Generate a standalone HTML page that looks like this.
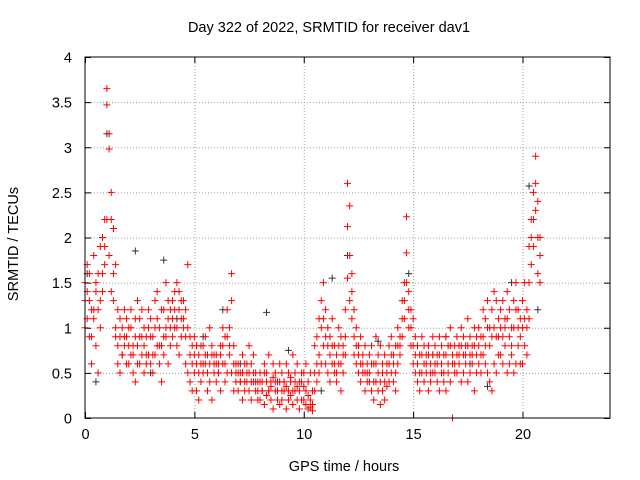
<!DOCTYPE html>
<html><head><meta charset="utf-8"><style>
html,body{margin:0;padding:0;background:#fff}
svg{display:block}
text{font-family:"Liberation Sans",sans-serif;font-size:14.5px;fill:#000}
</style></head><body>
<svg id="chart" width="640" height="480">
<text x="329" y="32" text-anchor="middle">Day 322 of 2022, SRMTID for receiver dav1</text>
<text x="344" y="471" text-anchor="middle">GPS time / hours</text>
<text transform="translate(18,244) rotate(-90)" text-anchor="middle">SRMTID / TECUs</text>
<g id="grid"></g><g id="ticks"></g><g id="pts"></g>
<rect x="85" y="57" width="525" height="361" fill="none" stroke="#000" stroke-width="1"/>
</svg>
<script>
const xTicks=[0,5,10,15,20];
const yTicks=[0,0.5,1,1.5,2,2.5,3,3.5,4];
const yTickLabels=["0","0.5","1","1.5","2","2.5","3","3.5","4"];
const times=[0.0,0.1,0.2,0.3,0.4,0.5,0.6,0.7,0.8,0.9,1.0,1.1,1.2,1.3,1.4,1.5,1.6,1.7,1.8,1.9,2.0,2.1,2.2,2.3,2.4,2.5,2.6,2.7,2.8,2.9,3.0,3.1,3.2,3.3,3.4,3.5,3.6,3.7,3.8,3.9,4.0,4.1,4.2,4.3,4.4,4.5,4.6,4.7,4.8,4.9,5.0,5.1,5.2,5.3,5.4,5.5,5.6,5.7,5.8,5.9,6.0,6.1,6.2,6.3,6.4,6.5,6.6,6.7,6.8,6.9,7.0,7.1,7.2,7.3,7.4,7.5,7.6,7.7,7.8,7.9,8.0,8.1,8.2,8.3,8.4,8.5,8.6,8.7,8.8,8.9,9.0,9.1,9.2,9.3,9.4,9.5,9.6,9.7,9.8,9.9,10.0,10.1,10.2,10.3,10.4,10.5,10.6,10.7,10.8,10.9,11.0,11.1,11.2,11.3,11.4,11.5,11.6,11.7,11.8,11.9,12.0,12.1,12.2,12.3,12.4,12.5,12.6,12.7,12.8,12.9,13.0,13.1,13.2,13.3,13.4,13.5,13.6,13.7,13.8,13.9,14.0,14.1,14.2,14.3,14.4,14.5,14.6,14.7,14.8,14.9,15.0,15.1,15.2,15.3,15.4,15.5,15.6,15.7,15.8,15.9,16.0,16.1,16.2,16.3,16.4,16.5,16.6,16.7,16.8,16.9,17.0,17.1,17.2,17.3,17.4,17.5,17.6,17.7,17.8,17.9,18.0,18.1,18.2,18.3,18.4,18.5,18.6,18.7,18.8,18.9,19.0,19.1,19.2,19.3,19.4,19.5,19.6,19.7,19.8,19.9,20.0,20.1,20.2,20.3,20.4,20.5,20.6,20.7,20.8];
const red1=[1.5,1.7,1.3,1.2,1.8,1.4,1.6,1.9,2.0,2.2,
3.65,3.15,2.5,2.1,1.7,1.2,0.9,1.0,0.8,1.1,
1.0,1.2,0.8,0.9,1.3,1.1,0.7,1.0,0.9,1.2,
1.1,0.9,1.3,1.4,1.0,0.8,1.2,1.5,1.1,1.0,
1.3,1.2,1.5,1.4,1.1,1.3,1.2,1.7,0.9,0.8,
0.9,0.8,0.7,0.6,0.8,0.9,0.7,1.0,0.8,0.7,
0.7,0.6,0.8,1.0,0.9,1.2,1.0,1.6,0.8,0.6,
0.6,0.5,0.7,0.6,0.5,0.8,0.6,0.7,0.5,0.4,
0.5,0.4,0.6,0.5,0.7,0.4,0.6,0.5,0.4,0.6,
0.5,0.4,0.6,0.5,0.4,0.7,0.5,0.6,0.4,0.5,
0.5,0.6,0.4,0.5,0.3,0.8,0.9,1.1,1.3,1.5,
1.2,1.0,0.9,1.1,0.8,0.7,1.0,0.9,0.8,1.2,
2.6,2.35,1.6,1.2,1.0,0.8,0.9,0.7,0.8,0.6,
0.7,0.8,0.6,0.9,0.7,0.8,0.6,0.7,0.5,0.8,
0.9,0.7,0.8,1.0,0.9,1.3,1.5,2.23,1.4,1.2,
1.1,0.9,0.8,0.7,0.9,0.8,0.7,0.8,0.6,0.9,
0.8,0.7,0.9,0.8,0.7,0.9,0.8,1.0,0.0,0.8,
0.9,0.8,1.0,0.9,0.8,1.1,0.9,0.8,1.0,0.9,
1.0,0.9,1.2,1.1,1.3,1.0,1.2,1.4,1.3,1.1,
1.2,1.3,1.1,1.4,1.2,1.0,1.3,1.5,1.2,1.1,
1.3,1.5,1.2,1.9,2.2,2.5,2.9,2.4,2.0];
const red2=[1.3,1.1,0.9,0.6,1.2,0.8,0.5,1.0,1.4,1.7,
3.47,2.98,2.2,1.6,1.0,0.6,0.5,0.7,0.9,0.6,
0.6,0.7,0.5,0.4,0.8,0.6,0.9,0.5,0.6,0.7,
0.6,0.5,0.7,0.8,0.6,0.4,0.7,0.9,0.6,0.8,
0.9,1.0,0.8,0.7,0.9,1.0,0.6,0.5,0.4,0.3,
0.5,0.3,0.2,0.4,0.5,0.6,0.3,0.4,0.2,0.5,
0.4,0.5,0.3,0.6,0.4,0.5,0.7,0.5,0.3,0.4,
0.3,0.4,0.2,0.3,0.4,0.3,0.2,0.4,0.3,0.2,
0.2,0.3,0.15,0.25,0.3,0.2,0.1,0.3,0.2,0.15,
0.2,0.3,0.1,0.2,0.25,0.15,0.3,0.2,0.1,0.2,
0.2,0.15,0.1,0.12,0.08,0.3,0.4,0.5,0.6,0.8,
0.6,0.5,0.4,0.6,0.5,0.4,0.6,0.3,0.5,0.7,
2.12,1.8,1.1,0.7,0.6,0.5,0.4,0.5,0.3,0.4,
0.4,0.3,0.2,0.4,0.3,0.15,0.3,0.2,0.35,0.4,
0.5,0.4,0.3,0.6,0.7,0.9,1.1,1.83,1.0,0.8,
0.6,0.5,0.4,0.3,0.5,0.4,0.5,0.3,0.4,0.5,
0.5,0.4,0.3,0.5,0.4,0.3,0.5,0.4,0.6,0.5,
0.5,0.6,0.4,0.5,0.6,0.4,0.5,0.6,0.3,0.5,
0.6,0.5,0.7,0.6,0.5,0.4,0.3,0.6,0.5,0.7,
0.7,0.6,0.8,0.5,0.6,0.7,0.5,0.6,0.8,0.6,
0.6,0.8,0.7,1.1,1.7,1.9,2.3,1.6,1.5];
const red3=[1.0,1.4,1.6,0.9,1.1,1.5,1.2,1.3,1.6,1.9,
2.2,1.8,1.4,1.3,0.9,0.8,1.1,0.7,1.2,0.9,
0.8,1.0,0.7,1.1,0.6,0.9,1.2,0.8,0.7,1.0,
0.9,0.7,1.0,1.1,0.8,1.2,0.9,1.0,1.3,1.2,
1.1,1.4,1.0,1.2,1.3,1.1,0.9,1.0,0.7,0.6,
0.7,0.6,0.5,0.8,0.6,0.7,0.5,0.6,0.7,0.6,
0.6,0.5,0.7,0.8,0.6,0.9,0.8,1.3,0.6,0.5,
0.5,0.4,0.5,0.4,0.6,0.5,0.4,0.5,0.4,0.3,
0.4,0.3,0.5,0.4,0.3,0.35,0.45,0.4,0.3,0.4,
0.3,0.4,0.35,0.3,0.45,0.3,0.4,0.35,0.3,0.4,
0.35,0.3,0.25,0.2,0.15,0.5,0.6,0.7,1.0,1.1,
0.9,0.8,0.7,0.8,0.6,0.5,0.8,0.6,0.7,0.9,
1.55,1.3,1.4,0.9,0.8,0.7,0.6,0.6,0.5,0.5,
0.5,0.6,0.4,0.6,0.5,0.4,0.5,0.4,0.6,0.6,
0.7,0.6,0.5,0.8,0.8,1.1,1.3,1.5,1.2,1.0,
0.8,0.7,0.6,0.5,0.7,0.6,0.6,0.7,0.5,0.7,
0.6,0.6,0.7,0.6,0.5,0.7,0.6,0.8,0.7,0.6,
0.7,0.7,0.8,0.7,0.7,0.8,0.7,0.7,0.8,0.7,
0.8,0.7,0.9,0.8,1.0,0.8,0.9,1.0,0.9,0.9,
1.0,0.9,1.0,1.1,0.9,0.8,1.0,1.2,1.0,0.9,
1.0,1.1,1.0,1.5,2.0,2.2,2.6,2.0,1.8];
const greyT=[0.1,0.5,1.0,2.3,3.6,4.2,5.4,6.3,8.3,9.3,11.3,12.0,13.4,14.8,15.9,17.6,18.4,19.5,20.3,20.7,3.0,7.1,10.8,16.5];
const greyY=[1.6,0.4,3.15,1.85,1.75,1.1,0.9,1.2,1.17,0.75,1.55,1.8,0.85,1.6,0.7,0.6,0.35,1.5,2.57,1.2,0.5,0.6,0.3,0.9];

const X0=85,X1=610,Y0=418,Y1=57;
function xs(v){return X0+(v/24)*(X1-X0);}
function ys(v){return Y0-(v/4)*(Y0-Y1);}
const NS="http://www.w3.org/2000/svg";
const grid=document.getElementById('grid'),ticks=document.getElementById('ticks'),pts=document.getElementById('pts');
function mk(tag,attrs,parent){const e=document.createElementNS(NS,tag);for(const k in attrs)e.setAttribute(k,attrs[k]);parent.appendChild(e);return e;}
xTicks.forEach(function(v){
  const x=xs(v)+0.5;
  if(v>0){const g=mk('line',{x1:x,x2:x,y1:Y1,y2:Y0,stroke:'#a0a0a0','stroke-dasharray':'1,2'},grid);
  
  }
  const t=mk('path',{d:'M'+x+' '+Y0+'v-6M'+x+' '+Y1+'v6',stroke:'#000'},ticks);
  
  
  const l=mk('text',{x:x,y:Y0+21,'text-anchor':'middle'},ticks);l.textContent=String(v);
  
  
});
yTicks.forEach(function(v,i){
  const y=ys(v)+0.5;
  if(v>0&&v<4){const g=mk('line',{x1:X0,x2:X1,y1:y,y2:y,stroke:'#a0a0a0','stroke-dasharray':'1,2'},grid);
  
  }
  const t=mk('path',{d:'M'+X0+' '+y+'h6M'+X1+' '+y+'h-6',stroke:'#000'},ticks);
  
  
  const l=mk('text',{x:X0-13,y:y+5,'text-anchor':'end'},ticks);l.textContent=yTickLabels[i];
  
  
});
function plus(t,v,color,name){
  const x=xs(t),y=ys(v);
  const p=mk('path',{d:'M'+(x-3.5)+' '+y+'h7M'+x+' '+(y-3.5)+'v7',stroke:color,'stroke-width':1},pts);
  
  
}
greyT.forEach(function(t,i){plus(t,greyY[i],'#333','grey-point');});
times.forEach(function(t,i){plus(t,red3[i],'#ff0000','red-point');});
times.forEach(function(t,i){plus(t,red2[i],'#ff0000','red-point');});
times.forEach(function(t,i){plus(t,red1[i],'#ff0000','red-point');});
</script>
</body></html>
